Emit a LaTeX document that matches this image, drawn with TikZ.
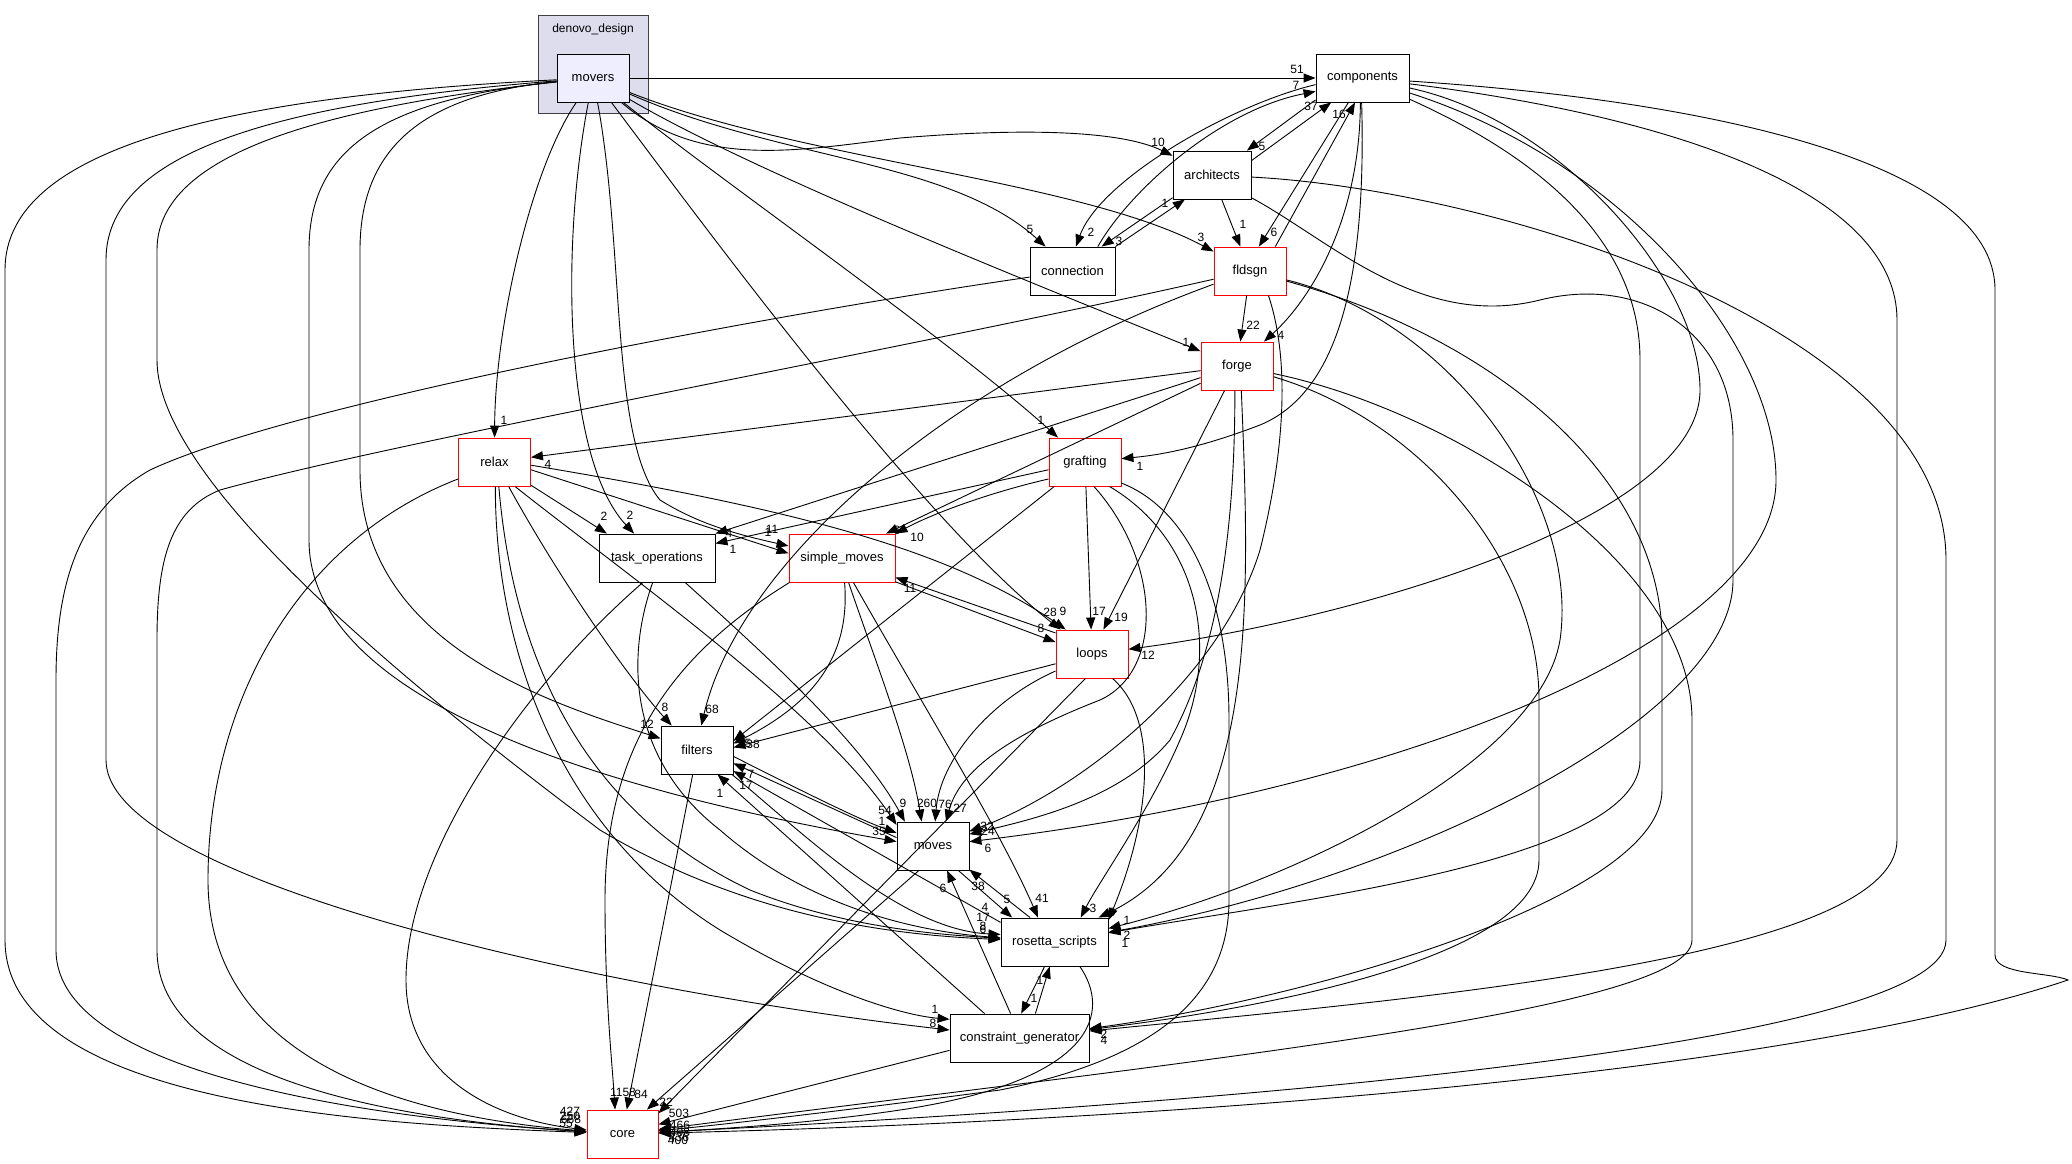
\documentclass[tikz,border=0pt]{standalone}
\usepackage{fontspec}
\setmainfont{Liberation Sans}
\usetikzlibrary{arrows.meta}
\definecolor{clusterfill}{HTML}{DDDDEE}
\definecolor{moversfill}{HTML}{EEEEFF}
\newcounter{labc}
\newcommand\elab[3]{\stepcounter{labc}\node[lab] (lab\arabic{labc}) at (#1,#2) {#3};}
\begin{document}
\begin{tikzpicture}[x=1pt,y=-1pt,
  box/.style={draw=black,line width=0.9pt,fill=white,minimum height=48pt,inner sep=0pt,font=\fontsize{13}{15}\selectfont},
  rbox/.style={box,draw=red},
  e/.style={-{Triangle[length=12pt,width=9pt]},line width=0.9pt,draw=black},
  lab/.style={font=\fontsize{12}{14}\selectfont,inner sep=0pt}]
\useasboundingbox[fill=white] (0,0) rectangle (2072,1164);
% cluster
\node[draw=black!75,fill=clusterfill,line width=1pt,minimum width=110pt,minimum height=97pt,inner sep=0pt] (dd) at (593,64.5) {};
\node[font=\fontsize{12}{14}\selectfont] (ddlab) at (593,29) {denovo\_design};
% nodes
\node[box,fill=moversfill,minimum width=72pt] (movers) at (593,78) {movers};
\node[box,minimum width=93pt] (components) at (1362.5,78) {components};
\node[box,minimum width=78pt] (architects) at (1212,175) {architects};
\node[box,minimum width=85pt] (connection) at (1072.5,271) {connection};
\node[rbox,minimum width=72pt] (fldsgn) at (1250,271) {fldsgn};
\node[rbox,minimum width=72pt] (forge) at (1237,366) {forge};
\node[rbox,minimum width=72pt] (relax) at (494.5,462) {relax};
\node[rbox,minimum width=72pt] (grafting) at (1085,462) {grafting};
\node[box,minimum width=116pt] (taskops) at (657,558) {task\_operations};
\node[rbox,minimum width=106pt] (simplemoves) at (842,558) {simple\_moves};
\node[rbox,minimum width=72pt] (loops) at (1092,654) {loops};
\node[box,minimum width=72pt] (filters) at (697,750) {filters};
\node[box,minimum width=72pt] (moves) at (933,846) {moves};
\node[box,minimum width=107pt] (rosetta) at (1054.5,942) {rosetta\_scripts};
\node[box,minimum width=139pt] (cg) at (1019.5,1038) {constraint\_generator};
\node[rbox,minimum width=71pt] (core) at (622.5,1134) {core};

% ---- movers
\draw[e] (movers) -- (components);
\draw[e] (movers) .. controls (700,170) and (800,150) .. (900,138) .. controls (1020,128) and (1120,130) .. (architects);
\draw[e] (movers) .. controls (780,160) and (950,160) .. (connection);
\draw[e] (movers) .. controls (800,160) and (1080,180) .. (fldsgn);
\draw[e] (movers) .. controls (750,170) and (1000,270) .. (forge);
\draw[e] (movers) .. controls (720,180) and (950,340) .. (grafting);
\draw[e] (movers) .. controls (700,220) and (920,520) .. (loops);
\draw[e] (movers) .. controls (530,170) and (495,330) .. (relax);
\draw[e] (movers) .. controls (560,250) and (565,460) .. (taskops);
\draw[e] (movers) .. controls (625,250) and (610,440) .. (660,500) .. controls (700,525) and (740,535) .. (simplemoves);
\draw[e] (movers) .. controls (420,95) and (360,150) .. (360,250) -- (360,470) .. controls (360,640) and (540,700) .. (filters);
\draw[e] (movers) .. controls (380,100) and (309,150) .. (309,250) -- (309,540) .. controls (309,700) and (600,790) .. (moves.173);
\draw[e] (movers) .. controls (300,110) and (157,160) .. (157,250) -- (157,360) .. controls (157,480) and (400,680) .. (600,830) .. controls (750,920) and (900,935) .. (rosetta);
\draw[e] (movers) .. controls (250,105) and (106,160) .. (106,260) -- (106,760) .. controls (106,880) and (600,990) .. (cg);
\draw[e] (movers) .. controls (150,100) and (5,170) .. (5,270) -- (5,940) .. controls (5,1110) and (400,1125) .. (core);

% ---- components / architects / connection / fldsgn
\draw[e] (components.205) -- (architects.35);
\draw[e] (architects.20) -- (components.218);
\draw[e] (components.188) .. controls (1230,105) and (1100,180) .. (connection.82);
\draw[e] (connection.44) .. controls (1130,190) and (1220,110) .. (components.196);
\draw[e] (connection.north east) -- (architects.222);
\draw[e] (architects.210) -- (connection.40);
\draw[e] (components.240) -- (fldsgn.70);
\draw[e] (fldsgn.44) -- (components.253);
\draw[e] (architects) -- (fldsgn);
\draw[e] (components.265) .. controls (1360,220) and (1310,300) .. (forge);
\draw[e] (fldsgn) -- (forge);
\draw[e] (components.268) .. controls (1366,260) and (1345,390) .. (1260,425) .. controls (1200,448) and (1160,455) .. (grafting);
\draw[e] (components) .. controls (1560,120) and (1700,280) .. (1700,390) .. controls (1700,520) and (1350,620) .. (loops);
\draw[e] (components) .. controls (1620,160) and (1776,340) .. (1776,480) .. controls (1776,640) and (1400,790) .. (moves);
% long right-hand curves
\draw[e] (components) .. controls (1700,100) and (1995,160) .. (1995,290) -- (1995,955) .. controls (1995,975) and (2050,972) .. (2068,980) .. controls (1800,1070) and (1200,1120) .. (core);
\draw[e] (architects) .. controls (1500,190) and (1946,330) .. (1946,560) -- (1946,940) .. controls (1946,1040) and (1300,1100) .. (core);
\draw[e] (components) .. controls (1700,120) and (1897,200) .. (1897,320) -- (1897,840) .. controls (1897,960) and (1400,1000) .. (cg);
\draw[e] (forge) .. controls (1450,410) and (1692,560) .. (1692,720) -- (1692,940) .. controls (1692,1010) and (1200,1060) .. (core);
\draw[e] (fldsgn) .. controls (1500,340) and (1662,480) .. (1662,640) -- (1662,790) .. controls (1662,900) and (1300,1000) .. (cg);
\draw[e] (forge) .. controls (1420,420) and (1539,560) .. (1539,700) -- (1539,860) .. controls (1539,960) and (1250,1010) .. (cg);
\draw[e] (components) .. controls (1500,140) and (1640,220) .. (1640,360) -- (1640,760) .. controls (1640,860) and (1300,900) .. (rosetta);
\draw[e] (architects.-30) .. controls (1330,240) and (1420,330) .. (1540,300) .. controls (1640,275) and (1733,330) .. (1733,440) -- (1733,580) .. controls (1733,720) and (1400,880) .. (rosetta);
\draw[e] (fldsgn) .. controls (1450,320) and (1580,500) .. (1560,640) .. controls (1540,760) and (1300,880) .. (rosetta);

% ---- forge
\draw[e] (forge) -- (relax);
\draw[e] (forge) -- (taskops.north east);
\draw[e] (forge) -- (simplemoves.29);
\draw[e] (forge) -- (loops.65);
\draw[e] (forge.-95) .. controls (1235,500) and (1225,640) .. (1170,740) .. controls (1120,800) and (1030,820) .. (moves.18);
\draw[e] (forge.-80) .. controls (1250,600) and (1260,840) .. (rosetta.29);
% ---- fldsgn
\draw[e] (fldsgn.-53) .. controls (1290,360) and (1285,450) .. (1260,550) .. controls (1220,680) and (1080,790) .. (moves.22);
\draw[e] (fldsgn) .. controls (950,380) and (740,560) .. (filters.80);
\draw[e] (fldsgn) .. controls (900,350) and (400,440) .. (220,490) .. controls (170,510) and (157,560) .. (157,640) -- (157,950) .. controls (157,1080) and (400,1120) .. (core);
% ---- connection
\draw[e] (connection) .. controls (800,310) and (300,400) .. (150,470) .. controls (80,510) and (56,580) .. (56,680) -- (56,950) .. controls (56,1080) and (400,1120) .. (core);

% ---- grafting
\draw[e] (grafting.192) -- (taskops.14);
\draw[e] (grafting.205) .. controls (1000,490) and (940,510) .. (simplemoves.north east);
\draw[e] (grafting) -- (loops);
\draw[e] (grafting) -- (filters.14);
\draw[e] (grafting.-70) .. controls (1160,560) and (1165,670) .. (1100,700) .. controls (1010,735) and (960,770) .. (moves.62);
\draw[e] (grafting.-45) .. controls (1200,540) and (1220,650) .. (1180,740) .. controls (1150,810) and (1100,880) .. (rosetta.43);
\draw[e] (grafting.-30) .. controls (1190,510) and (1229,600) .. (1229,720) -- (1229,900) .. controls (1229,1000) and (1150,1060) .. (1000,1090) .. controls (850,1110) and (720,1125) .. (core);

% ---- relax
\draw[e] (relax) -- (taskops.154);
\draw[e] (relax.-12) -- (simplemoves.175);
\draw[e] (relax.-5) .. controls (800,510) and (950,550) .. (loops.137);
\draw[e] (relax.-60) .. controls (560,580) and (630,680) .. (filters.136);
\draw[e] (relax.-50) .. controls (620,570) and (820,710) .. (moves.150);
\draw[e] (relax.-80) .. controls (510,620) and (560,800) .. (750,890) .. controls (850,930) and (950,935) .. (rosetta);
\draw[e] (relax.-88) .. controls (495,650) and (560,830) .. (720,930) .. controls (820,990) and (900,1015) .. (cg.165);
\draw[e] (relax.205) .. controls (300,540) and (208,700) .. (208,880) .. controls (208,1080) and (450,1120) .. (core);

% ---- task_operations
\draw[e] (taskops.-41) .. controls (760,650) and (860,740) .. (moves.139);
\draw[e] (taskops.-100) .. controls (625,660) and (630,760) .. (720,830) .. controls (800,900) and (900,930) .. (rosetta);
\draw[e] (taskops.-120) .. controls (530,680) and (406,850) .. (406,980) .. controls (406,1080) and (500,1120) .. (core);

% ---- simple_moves
\draw[e] (simplemoves.-24) -- (loops.162);
\draw[e] (loops.150) -- (simplemoves.-20);
\draw[e] (simplemoves.-84) .. controls (850,650) and (820,700) .. (filters.10);
\draw[e] (simplemoves.-155) .. controls (680,650) and (605,740) .. (605,900) .. controls (605,1000) and (612,1060) .. (core.107);
\draw[e] (simplemoves.-75) .. controls (875,660) and (910,750) .. (moves.115);
\draw[e] (simplemoves.-65) .. controls (920,700) and (1000,830) .. (rosetta.124);

% ---- loops
\draw[e] (loops.195) -- (filters.4);
\draw[e] (loops.205) .. controls (990,700) and (940,760) .. (moves.85);
\draw[e] (loops.-105) -- (core.30);
\draw[e] (loops.-50) .. controls (1160,720) and (1150,820) .. (rosetta.22);

% ---- filters
\draw[e] (filters.-10) .. controls (800,790) and (860,820) .. (moves.160);
\draw[e] (filters.-35) .. controls (800,830) and (900,930) .. (rosetta.172);
\draw[e] (filters.-100) -- (core.80);

% ---- moves
\draw[e] (moves.167) -- (filters.-20);
\draw[e] (moves.-120) -- (core.45);
\draw[e] (moves.-44) -- (rosetta.150);

% ---- rosetta_scripts
\draw[e] (rosetta.135) -- (moves.-33);
\draw[e] (rosetta.160) -- (filters.-30);
\draw[e] (rosetta.-112) -- (cg.86);
\draw[e] (rosetta.-44) .. controls (1110,1010) and (1100,1080) .. (900,1110) .. controls (800,1125) and (700,1130) .. (core);

% ---- constraint_generator
\draw[e] (cg.57) -- (rosetta.-101);
\draw[e] (cg.110) -- (moves.-60);
\draw[e] (cg.145) -- (filters.-50);
\draw[e] (cg.190) -- (core.15);

% ---- labels
\elab{1297}{69}{51}
\elab{1296}{85}{7}
\elab{1158}{142}{10}
\elab{1030}{229}{5}
\elab{1201}{237}{3}
\elab{1186}{342}{1}
\elab{1041}{420}{1}
\elab{1050}{612}{28}
\elab{1063}{611}{9}
\elab{1041}{628}{8}
\elab{1099}{611}{17}
\elab{1121}{617}{19}
\elab{1148}{655}{12}
\elab{504}{420}{1}
\elab{630}{515}{2}
\elab{604}{516}{2}
\elab{772}{529}{11}
\elab{768}{532}{1}
\elab{729}{533}{4}
\elab{733}{549}{1}
\elab{548}{464}{4}
\elab{897}{530}{6}
\elab{917}{537}{10}
\elab{910}{588}{11}
\elab{647}{724}{12}
\elab{665}{707}{8}
\elab{712}{709}{68}
\elab{748}{743}{5}
\elab{753}{744}{38}
\elab{751}{774}{7}
\elab{746}{785}{17}
\elab{720}{793}{1}
\elab{885}{810}{54}
\elab{882}{821}{1}
\elab{879}{831}{35}
\elab{903}{803}{9}
\elab{927}{803}{260}
\elab{945}{804}{76}
\elab{960}{808}{27}
\elab{987}{826}{32}
\elab{988}{831}{24}
\elab{988}{848}{6}
\elab{943}{888}{6}
\elab{978}{886}{38}
\elab{1007}{899}{5}
\elab{1042}{898}{41}
\elab{1093}{908}{3}
\elab{1112}{912}{5}
\elab{1127}{920}{1}
\elab{1127}{935}{2}
\elab{1125}{943}{1}
\elab{985}{907}{4}
\elab{983}{917}{17}
\elab{983}{926}{8}
\elab{983}{929}{6}
\elab{1040}{980}{1}
\elab{1034}{998}{1}
\elab{935}{1009}{1}
\elab{933}{1023}{8}
\elab{1104}{1034}{2}
\elab{1104}{1040}{4}
\elab{623}{1092}{1158}
\elab{641}{1094}{84}
\elab{666}{1102}{22}
\elab{679}{1113}{503}
\elab{680}{1125}{466}
\elab{680}{1132}{408}
\elab{679}{1137}{436}
\elab{678}{1140}{400}
\elab{570}{1111}{427}
\elab{570}{1116}{250}
\elab{571}{1119}{668}
\elab{566}{1123}{55}
\elab{1262}{146}{5}
\elab{1311}{106}{37}
\elab{1091}{232}{2}
\elab{1165}{203}{1}
\elab{1119}{241}{3}
\elab{1274}{232}{6}
\elab{1339}{114}{16}
\elab{1243}{224}{1}
\elab{1281}{335}{4}
\elab{1253}{325}{22}
\elab{1140}{466}{1}
\end{tikzpicture}
\end{document}
